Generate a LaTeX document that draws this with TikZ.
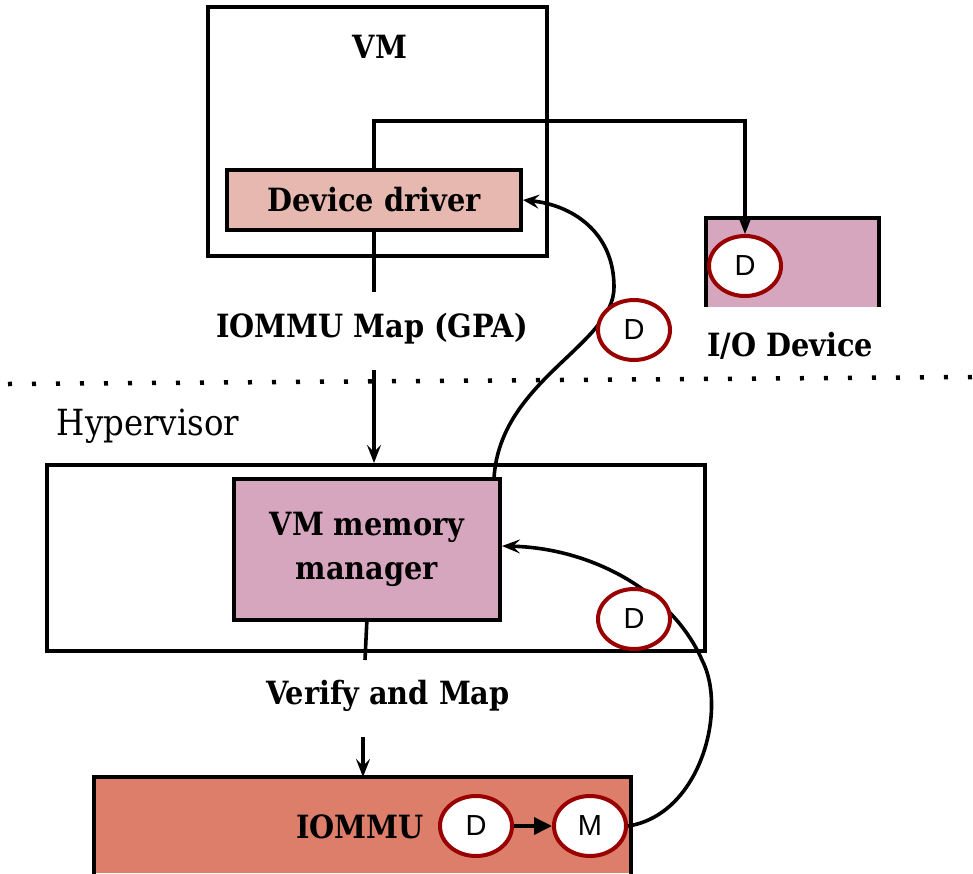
\documentclass[tikz,border=0pt]{standalone}
\usepackage{fontspec}
\setmainfont{DejaVu Serif Condensed}
\newfontfamily\tagfont{Liberation Sans}
\usetikzlibrary{arrows.meta,shapes.geometric}
\definecolor{drvfill}{HTML}{E6B8AF}
\definecolor{pinkfill}{HTML}{D5A6BD}
\definecolor{iommufill}{HTML}{DD7E6B}
\definecolor{tagred}{HTML}{990000}
\tikzset{
  box/.style={draw=black, line width=4pt, rectangle, inner sep=0pt},
  lbl/.style={font=\bfseries\fontsize{32}{44}\selectfont, inner sep=2pt},
  tag/.style={ellipse, draw=tagred, line width=4pt, fill=white,
    minimum width=72pt, minimum height=60pt, inner sep=0pt,
    font=\tagfont\fontsize{29}{32}\selectfont},
  link/.style={line width=3.6pt},
  tip/.style={-{Stealth[length=18pt,width=14pt,inset=7pt]}},
  opentip/.style={-{Stealth[open,length=16pt,width=14pt,inset=6pt,line width=2.4pt]}}
}
\begin{document}
\begin{tikzpicture}[x=1pt,y=-1pt]
\useasboundingbox (0,0) rectangle (973,873);

% guest side
\node[box, minimum width=339pt, minimum height=249pt] (vm) at (377.5,131.5) {};
\node[lbl] (vmlbl) at (380,47) {VM};
\node[box, fill=drvfill, minimum width=294pt, minimum height=60pt, lbl, inner sep=0pt] (drv) at (374,200) {Device driver};

% I/O device (open at the bottom)
\fill[pinkfill] (706,218) rectangle (879,307);
\draw[line width=4pt] (706,307) -- (706,218) -- (879,218) -- (879,307);
\node[tag] (iod) at (745,266) {D};
\node[lbl] (iolbl) at (790,346) {I/O Device};

\node[lbl] (gpa) at (372,329) {IOMMU Map (GPA)};

% guest / hypervisor boundary
\draw[line width=4.5pt, dash pattern=on 4pt off 20pt] (8,384) -- (973,377);
\node[lbl, font=\fontsize{36}{40}\selectfont] (hyplbl) at (148,426) {Hypervisor};

% hypervisor
\node[box, minimum width=658pt, minimum height=186pt] (hyp) at (376,558) {};
\node[box, fill=pinkfill, minimum width=266pt, minimum height=141pt, lbl, align=center, inner sep=0pt] (vmm) at (367,549) {VM memory\\manager};
\node[lbl] (vfy) at (388,696) {Verify and Map};

% IOMMU (runs off the bottom edge)
\fill[iommufill] (94,777) rectangle (631,873);
\draw[line width=4pt] (94,876) -- (94,777) -- (631,777) -- (631,876);
\coordinate (iommutop) at (363,777);
\node[lbl] (iommulbl) at (360,827) {IOMMU};
\node[tag] (td) at (476,826) {D};
\node[tag] (tm) at (590,826) {M};

% connectors
\coordinate (drvtop) at (374,170);
\draw[link, tip] (drvtop) |- (745,121) -- (iod.north);
\coordinate (gpaend) at (374,292);
\draw[link] (drv.south) -- (gpaend);
\coordinate (gpastart) at (374,370);
\draw[link, tip] (gpastart) -- (hyp.north -| gpastart);
\coordinate (vmmbot) at (367,618);
\coordinate (vfyend) at (365,660);
\draw[link] (vmmbot) -- (vfyend);
\coordinate (vfystart) at (363,737);
\draw[link, tip] (vfystart) -- (iommutop);
\draw[link, -{Stealth[length=18pt,width=17pt,inset=0pt]}] (td) -- (tm);

% mapping return paths
\coordinate (vmmtr) at (494,478);
\draw[link, opentip] (vmmtr) .. controls (500,380) and (614,345) .. (614,287)
  .. controls (614,232) and (572,205) .. (drv.east);
\draw[link, tip] (tm.east) .. controls (700,815) and (728,710) .. (702,660)
  .. controls (672,592) and (592,548) .. (vmm.east |- 0,546);
\node[tag] (dlow) at (634,619) {D};
\node[tag] (dmid) at (634,330) {D};
\end{tikzpicture}
\end{document}
